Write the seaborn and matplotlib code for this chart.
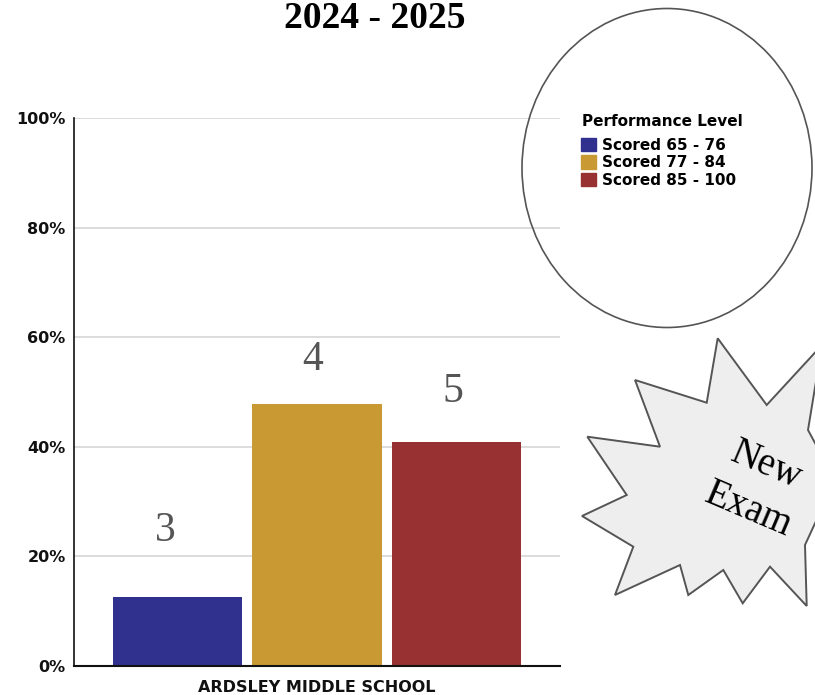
import matplotlib
matplotlib.use("Agg")
import matplotlib.pyplot as plt
import matplotlib.patches as mpatches
import pandas as pd
import seaborn as sns

# data
school = "ARDSLEY MIDDLE SCHOOL"
levels = ["Scored 65 - 76", "Scored 77 - 84", "Scored 85 - 100"]
level_labels = ["3", "4", "5"]
percent = [12.6, 47.8, 40.9]
colors = ["#30318f", "#c99a33", "#983232"]

df = pd.DataFrame({"school": [school] * len(levels), "level": levels, "pct": percent})

sns.set_style("white")
plt.rcParams["font.family"] = ["DejaVu Sans"]
plt.rcParams["text.color"] = "black"

fig = plt.figure(figsize=(8.15, 6.95), dpi=100)
ax = fig.add_axes([74 / 815, 1 - 666 / 695, 486 / 815, 548 / 695])

sns.barplot(data=df, x="school", y="pct", hue="level", palette=colors,
            hue_order=levels, width=0.8, gap=0.07, ax=ax, legend=False,
            saturation=1, linewidth=0)

ax.set_ylim(0, 100)
ax.set_xlim(-0.465, 0.465)
ax.set_yticks([0, 20, 40, 60, 80, 100])
ax.set_yticklabels([f"{v}%" for v in [0, 20, 40, 60, 80, 100]],
                   fontsize=11.5, fontweight="bold", color="#111111")
ax.set_xticklabels([school], fontsize=11.5, fontweight="bold", color="#111111")
ax.set_xlabel("")
ax.set_ylabel("")
ax.tick_params(axis="both", length=0)
ax.tick_params(axis="y", pad=6)
ax.tick_params(axis="x", pad=10)
ax.yaxis.grid(True, color="#d6d6d6", linewidth=1.2)
ax.set_axisbelow(True)
for side in ["top", "right"]:
    ax.spines[side].set_visible(False)
ax.spines["left"].set_color("#111111")
ax.spines["left"].set_linewidth(1.2)
ax.spines["bottom"].set_color("#111111")
ax.spines["bottom"].set_linewidth(1.5)

# big serif level numbers above the bars
label_offsets = [(-12, 66), (-4, 44), (-3, 50)]
for cont, lab, off in zip(ax.containers, level_labels, label_offsets):
    bar = cont.patches[0]
    ax.annotate(lab, (bar.get_x() + bar.get_width() / 2, bar.get_height()),
                xytext=off, textcoords="offset pixels", ha="center", va="center",
                fontsize=30, color="#555555", family="Liberation Serif")

# year title near the top edge
fig.text(375 / 815, 1 - 28 / 695, "2024 - 2025", ha="center", va="baseline",
         fontsize=27, fontweight="bold", family="Liberation Serif", color="black")

# circled legend
fig.text(582 / 815, 1 - 122 / 695, "Performance Level", ha="left", va="center",
         fontsize=11, fontweight="bold", color="black")
handles = [mpatches.Patch(color=c, label=l) for c, l in zip(colors, levels)]
leg = fig.legend(handles=handles, loc="upper left",
                 bbox_to_anchor=(581 / 815, 1 - 138 / 695), frameon=False,
                 prop={"weight": "bold", "size": 11},
                 handlelength=0.95, handleheight=0.95,
                 handletextpad=0.45, labelspacing=0.15, borderpad=0,
                 borderaxespad=0)
for t in leg.get_texts():
    t.set_color("black")
fig.add_artist(mpatches.Ellipse((667 / 815, 1 - 168 / 695), 290 / 815, 319 / 695,
                                transform=fig.transFigure, facecolor="none",
                                edgecolor="#555555", linewidth=1.2))

# "New Exam" starburst
star = [(717.7, 338.3), (706.7, 402.7), (635, 380), (660, 446.7), (587.3, 436.7),
        (626.7, 495), (582, 516), (633.3, 546.7), (615, 595), (680, 565),
        (688.3, 595), (723.3, 570), (742.7, 603.3), (770, 566.7), (806.7, 606),
        (805, 545), (835, 480), (808, 430), (822, 345), (766.7, 405)]
star_fig = [(x / 815, 1 - y / 695) for x, y in star]
fig.add_artist(mpatches.Polygon(star_fig, closed=True, transform=fig.transFigure,
                                facecolor="#eeeeee", edgecolor="#555555",
                                linewidth=1.4))
fig.text(766 / 815, 1 - 466 / 695, "New", rotation=-23, ha="center", va="center",
         fontsize=28, family="Liberation Serif", color="black",
         rotation_mode="anchor")
fig.text(748 / 815, 1 - 510 / 695, "Exam", rotation=-23, ha="center", va="center",
         fontsize=28, family="Liberation Serif", color="black",
         rotation_mode="anchor")

fig.savefig("out.png", dpi=100)
